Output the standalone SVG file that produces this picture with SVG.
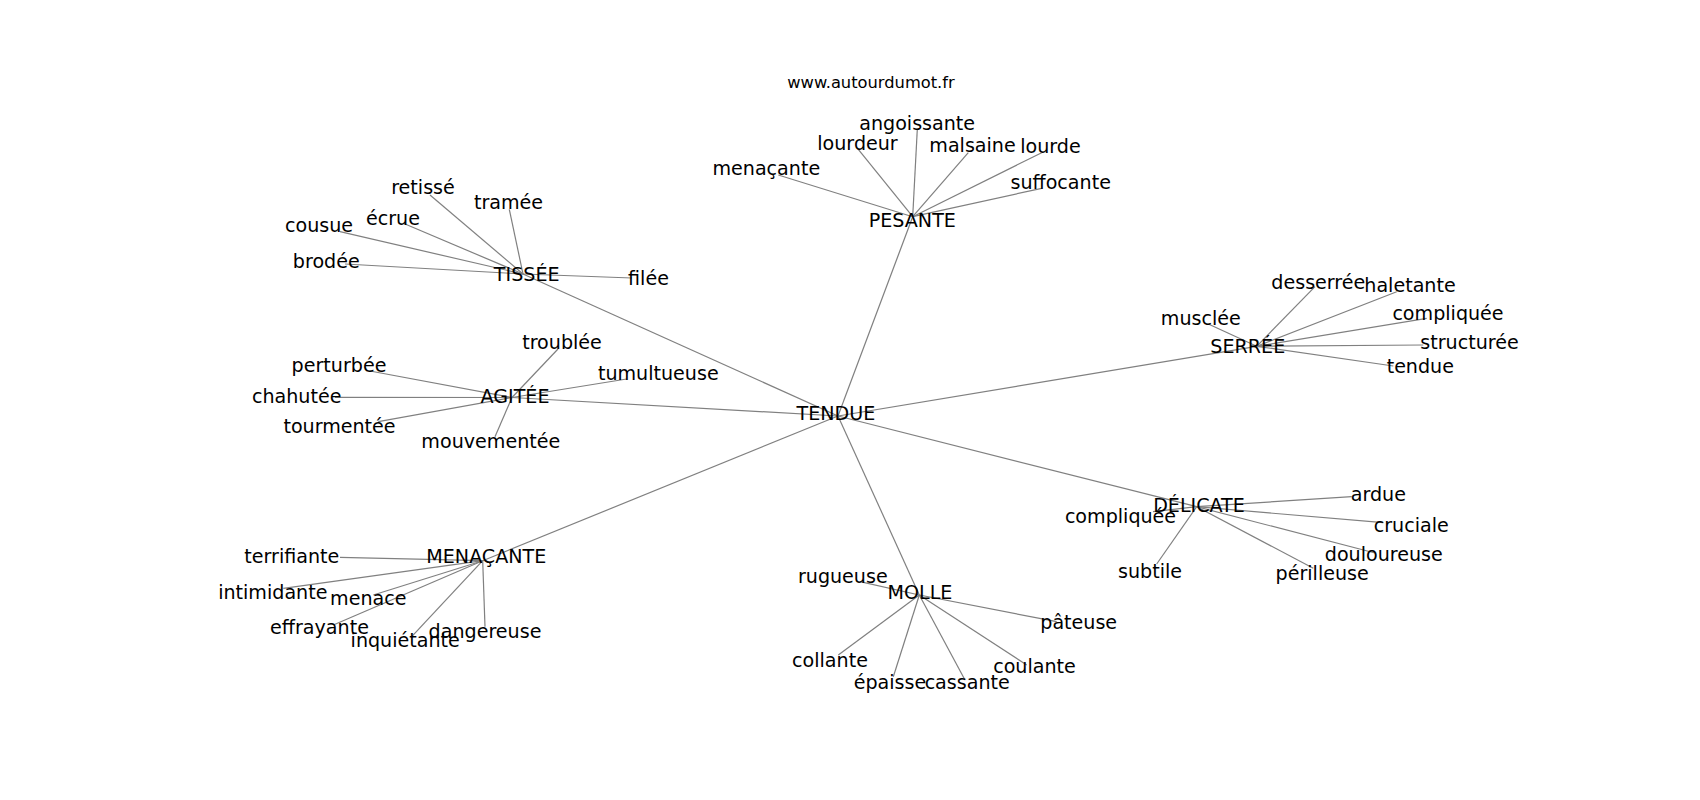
<svg xmlns="http://www.w3.org/2000/svg" width="1700" height="800" viewBox="0 0 1700 800">
<style>
.e{stroke:#808080;stroke-width:1.2;fill:none}
.t{font-family:"DejaVu Sans",sans-serif;font-size:19.1px;fill:#000;text-anchor:middle}
.title{font-family:"DejaVu Sans",sans-serif;font-size:16.3px;fill:#000;text-anchor:middle}
</style>
<rect width="1700" height="800" fill="#fff"/>
<text class="title" x="871" y="88.3">www.autourdumot.fr</text>
<g id="connectors">
<line class="e" x1="838" y1="416" x2="523" y2="274"/>
<line class="e" x1="838" y1="416" x2="912.7" y2="216.7"/>
<line class="e" x1="838" y1="416" x2="1256.7" y2="346.3"/>
<line class="e" x1="838" y1="416" x2="512" y2="397.5"/>
<line class="e" x1="838" y1="416" x2="482.7" y2="560.7"/>
<line class="e" x1="838" y1="416" x2="919.3" y2="595"/>
<line class="e" x1="838" y1="416" x2="1196.7" y2="506.7"/>
<line class="e" x1="523" y1="274" x2="430" y2="195"/>
<line class="e" x1="523" y1="274" x2="509.3" y2="209.3"/>
<line class="e" x1="523" y1="274" x2="403.3" y2="223.3"/>
<line class="e" x1="523" y1="274" x2="340" y2="231.7"/>
<line class="e" x1="523" y1="274" x2="345" y2="264"/>
<line class="e" x1="523" y1="274" x2="632" y2="278"/>
<line class="e" x1="912.7" y1="216.7" x2="917.3" y2="129.3"/>
<line class="e" x1="912.7" y1="216.7" x2="858.3" y2="149.3"/>
<line class="e" x1="912.7" y1="216.7" x2="968.3" y2="152.7"/>
<line class="e" x1="912.7" y1="216.7" x2="1041.7" y2="152.7"/>
<line class="e" x1="912.7" y1="216.7" x2="778.3" y2="175"/>
<line class="e" x1="912.7" y1="216.7" x2="1041.7" y2="188.3"/>
<line class="e" x1="1256.7" y1="346.3" x2="1315" y2="286.7"/>
<line class="e" x1="1256.7" y1="346.3" x2="1396.7" y2="291.7"/>
<line class="e" x1="1256.7" y1="346.3" x2="1208.3" y2="324"/>
<line class="e" x1="1256.7" y1="346.3" x2="1426.7" y2="318.3"/>
<line class="e" x1="1256.7" y1="346.3" x2="1423.3" y2="345"/>
<line class="e" x1="1256.7" y1="346.3" x2="1393.3" y2="366"/>
<line class="e" x1="512" y1="397.5" x2="558" y2="349"/>
<line class="e" x1="512" y1="397.5" x2="370" y2="371"/>
<line class="e" x1="512" y1="397.5" x2="335" y2="397.3"/>
<line class="e" x1="512" y1="397.5" x2="378.3" y2="421.7"/>
<line class="e" x1="512" y1="397.5" x2="495" y2="436.7"/>
<line class="e" x1="512" y1="397.5" x2="626.7" y2="379"/>
<line class="e" x1="482.7" y1="560.7" x2="340" y2="557.3"/>
<line class="e" x1="482.7" y1="560.7" x2="283.3" y2="588.3"/>
<line class="e" x1="482.7" y1="560.7" x2="373.3" y2="595"/>
<line class="e" x1="482.7" y1="560.7" x2="333.3" y2="625"/>
<line class="e" x1="482.7" y1="560.7" x2="411.7" y2="636.7"/>
<line class="e" x1="482.7" y1="560.7" x2="485" y2="626.7"/>
<line class="e" x1="919.3" y1="595" x2="860" y2="581.7"/>
<line class="e" x1="919.3" y1="595" x2="1056.7" y2="621.7"/>
<line class="e" x1="919.3" y1="595" x2="838.3" y2="655"/>
<line class="e" x1="919.3" y1="595" x2="1026.7" y2="665"/>
<line class="e" x1="919.3" y1="595" x2="893.3" y2="676.7"/>
<line class="e" x1="919.3" y1="595" x2="965" y2="680"/>
<line class="e" x1="1196.7" y1="506.7" x2="1153" y2="511.7"/>
<line class="e" x1="1196.7" y1="506.7" x2="1351.7" y2="496.7"/>
<line class="e" x1="1196.7" y1="506.7" x2="1383.3" y2="522.7"/>
<line class="e" x1="1196.7" y1="506.7" x2="1375" y2="553"/>
<line class="e" x1="1196.7" y1="506.7" x2="1156.7" y2="564"/>
<line class="e" x1="1196.7" y1="506.7" x2="1313.3" y2="568.3"/>
</g>
<g id="n-tendue"><text class="t" x="836" y="420">TENDUE</text></g>
<g id="n-tissee"><text class="t" x="526.7" y="281">TISSÉE</text></g>
<g id="n-retisse"><text class="t" x="423" y="194">retissé</text></g>
<g id="n-tramee"><text class="t" x="508.5" y="209.3">tramée</text></g>
<g id="n-ecrue"><text class="t" x="393" y="225">écrue</text></g>
<g id="n-cousue"><text class="t" x="319" y="232">cousue</text></g>
<g id="n-brodee"><text class="t" x="326.3" y="268.3">brodée</text></g>
<g id="n-filee"><text class="t" x="648.5" y="284.5">filée</text></g>
<g id="n-pesante"><text class="t" x="912.3" y="226.7">PESANTE</text></g>
<g id="n-angoissante"><text class="t" x="917.2" y="130">angoissante</text></g>
<g id="n-lourdeur"><text class="t" x="857.5" y="150">lourdeur</text></g>
<g id="n-malsaine"><text class="t" x="972.5" y="151.7">malsaine</text></g>
<g id="n-lourde"><text class="t" x="1050.5" y="152.7">lourde</text></g>
<g id="n-menacante2"><text class="t" x="766.3" y="175">menaçante</text></g>
<g id="n-suffocante"><text class="t" x="1060.7" y="189.3">suffocante</text></g>
<g id="n-serree"><text class="t" x="1247.8" y="353.3">SERRÉE</text></g>
<g id="n-desserree"><text class="t" x="1318.3" y="289.3">desserrée</text></g>
<g id="n-haletante"><text class="t" x="1410" y="291.7">haletante</text></g>
<g id="n-musclee"><text class="t" x="1200.8" y="325">musclée</text></g>
<g id="n-compliquee1"><text class="t" x="1448" y="320">compliquée</text></g>
<g id="n-structuree"><text class="t" x="1469.5" y="349.3">structurée</text></g>
<g id="n-tendue2"><text class="t" x="1420.3" y="372.7">tendue</text></g>
<g id="n-agitee"><text class="t" x="515" y="403.3">AGITÉE</text></g>
<g id="n-troublee"><text class="t" x="562" y="349.3">troublée</text></g>
<g id="n-perturbee"><text class="t" x="339" y="372.3">perturbée</text></g>
<g id="n-chahutee"><text class="t" x="296.7" y="403.3">chahutée</text></g>
<g id="n-tourmentee"><text class="t" x="339.5" y="433.3">tourmentée</text></g>
<g id="n-mouvementee"><text class="t" x="490.8" y="447.7">mouvementée</text></g>
<g id="n-tumultueuse"><text class="t" x="658.3" y="380">tumultueuse</text></g>
<g id="n-menacante"><text class="t" x="486.3" y="563.3">MENAÇANTE</text></g>
<g id="n-terrifiante"><text class="t" x="291.8" y="562.7">terrifiante</text></g>
<g id="n-intimidante"><text class="t" x="272.8" y="599">intimidante</text></g>
<g id="n-menace"><text class="t" x="368.3" y="605">menace</text></g>
<g id="n-effrayante"><text class="t" x="319.5" y="634">effrayante</text></g>
<g id="n-inquietante"><text class="t" x="405.2" y="646.7">inquiétante</text></g>
<g id="n-dangereuse"><text class="t" x="485" y="637.7">dangereuse</text></g>
<g id="n-molle"><text class="t" x="920" y="599.3">MOLLE</text></g>
<g id="n-rugueuse"><text class="t" x="842.8" y="582.7">rugueuse</text></g>
<g id="n-pateuse"><text class="t" x="1078.7" y="629.3">pâteuse</text></g>
<g id="n-collante"><text class="t" x="830" y="666.7">collante</text></g>
<g id="n-coulante"><text class="t" x="1034.5" y="673.3">coulante</text></g>
<g id="n-epaisse"><text class="t" x="890" y="689.3">épaisse</text></g>
<g id="n-cassante"><text class="t" x="967.2" y="689.3">cassante</text></g>
<g id="n-delicate"><text class="t" x="1199" y="511.7">DÉLICATE</text></g>
<g id="n-compliquee2"><text class="t" x="1120.5" y="523.3">compliquée</text></g>
<g id="n-ardue"><text class="t" x="1378.3" y="500.7">ardue</text></g>
<g id="n-cruciale"><text class="t" x="1411.2" y="531.7">cruciale</text></g>
<g id="n-douloureuse"><text class="t" x="1383.8" y="560.7">douloureuse</text></g>
<g id="n-subtile"><text class="t" x="1150" y="578.3">subtile</text></g>
<g id="n-perilleuse"><text class="t" x="1322.2" y="580">périlleuse</text></g>
</svg>
